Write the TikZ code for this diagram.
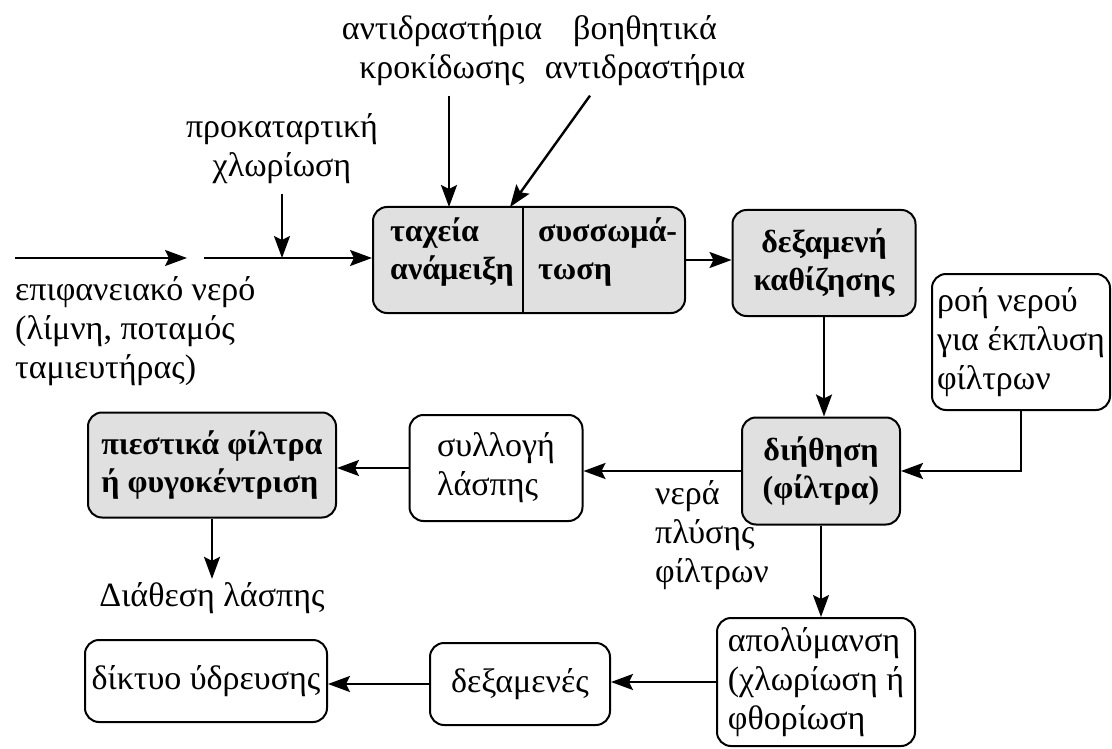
\documentclass[tikz,border=0pt]{standalone}
\usepackage{fontspec}
\setmainfont{Liberation Serif}
\usetikzlibrary{arrows.meta, positioning}
\definecolor{boxgray}{RGB}{224,224,224}
\newcommand{\flowfont}{\fontsize{34}{39}\selectfont}
\newcommand{\stagefont}{\fontsize{32}{38}\selectfont\bfseries}

\tikzset{
  box/.style={draw, rounded corners=14pt, line width=2pt, minimum height=106pt, align=left, inner sep=0pt},
  shadedbox/.style={box, fill=boxgray, font=\stagefont},
  flow/.style={line width=2.4pt, -{Stealth[length=22pt, width=16pt, inset=4pt]}},
}

\begin{document}
\begin{tikzpicture}[x=1pt, y=-1pt, font=\flowfont]
    \useasboundingbox (0,0) rectangle (1112,749);

    % treatment boxes
    \node[shadedbox, minimum width=312pt] (mix) at (529,260) {};
    \node[anchor=west, font=\stagefont, align=left, inner sep=0pt] (rapid) at (390,252) {ταχεία\\ανάμειξη};
    \node[anchor=west, font=\stagefont, align=left, inner sep=0pt] (floc) at (538,252) {συσσωμά-\\τωση};
    \coordinate (split) at (523,260);
    \draw[line width=2pt] (mix.north -| split) -- (mix.south -| split);

    \node[shadedbox, minimum width=183pt, align=center] (settle) at (824,263) {δεξαμενή\\καθίζησης};
    \node[box, minimum width=178pt, minimum height=136pt] (rinse) at (1021,342) {ροή νερού\\για έκπλυση\\φίλτρων};
    \node[shadedbox, minimum width=158pt, minimum height=107pt, align=center] (filter) at (821,471) {διήθηση\\(φίλτρα)};
    \node[box, minimum width=173pt] (sludge) at (496,468) {συλλογή\\λάσπης};
    \node[shadedbox, minimum width=248pt, minimum height=105pt] (press) at (212,465) {πιεστικά φίλτρα\\ή φυγοκέντριση};
    \node[box, minimum width=198pt, minimum height=128pt] (disinf) at (816,682) {απολύμανση\\(χλωρίωση ή\\φθορίωση};
    \node[box, minimum width=180pt, minimum height=82pt] (tanks) at (520,684) {δεξαμενές};
    \node[box, minimum width=242pt, minimum height=82pt] (network) at (206,681) {δίκτυο ύδρευσης};

    % free texts
    \node[anchor=west, align=left, inner sep=0pt] (source) at (15,331) {επιφανειακό νερό\\(λίμνη, ποταμός\\ταμιευτήρας)};
    \node[align=center] (prechl) at (282,149) {προκαταρτική\\χλωρίωση};
    \node[align=center] (coag) at (442,51) {αντιδραστήρια\\κροκίδωσης};
    \node[align=center] (aids) at (645,51) {βοηθητικά\\αντιδραστήρια};
    \node[anchor=west, align=left, inner sep=0pt] (wash) at (655,535) {νερά\\πλύσης\\φίλτρων};
    \node (dispose) at (212,598) {Διάθεση λάσπης};

    % inflow
    \coordinate (inflow) at (15,258);
    \coordinate (gapend) at (187,258);
    \coordinate (gapstart) at (204,258);
    \coordinate (aidtip) at (510,207);
    \coordinate (coagtip) at (449,207);
    \draw[flow] (inflow) -- (gapend);
    \draw[flow] (gapstart) -- (gapstart -| mix.west);
    \draw[flow] ([yshift=-6pt]prechl.south) -- (prechl.south |- gapstart);
    \draw[flow] (coag.south -| coagtip) ++(0,6) -- (coagtip);
    \draw[flow] ([xshift=-55pt, yshift=-6pt]aids.south) -- (aidtip);

    % process line
    \draw[flow] (mix.east) -- (mix.east -| settle.west);
    \draw[flow] (settle.south) -- (settle.south |- filter.north);
    \draw[flow] (rinse.south) |- (filter.east);
    \draw[flow] (filter.west) -- (filter.west -| sludge.east);
    \draw[flow] (sludge.west) -- (sludge.west -| press.east);
    \draw[flow] (press.south) -- (dispose.north);
    \draw[flow] (filter.south) -- (filter.south |- disinf.north);
    \draw[flow] (disinf.west) -- (disinf.west -| tanks.east);
    \draw[flow] (tanks.west) -- (tanks.west -| network.east);
\end{tikzpicture}
\end{document}
